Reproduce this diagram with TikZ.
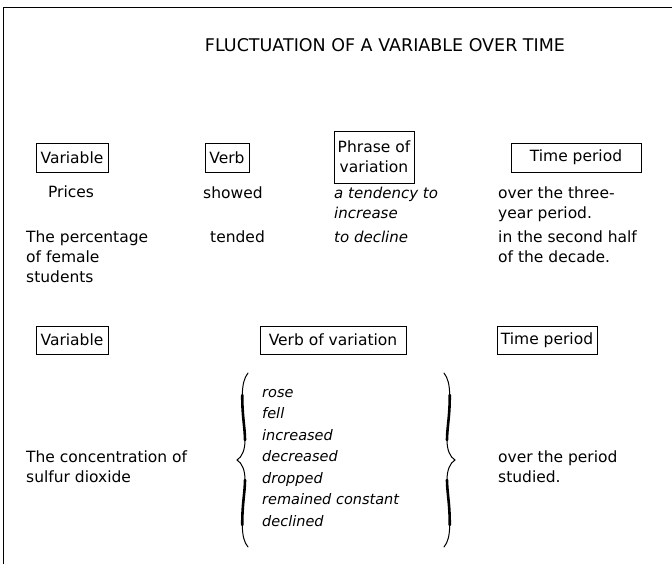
\documentclass[tikz,border=0pt]{standalone}
\usepackage{fontspec}
\setmainfont{DejaVu Sans}
\begin{document}
\begin{tikzpicture}[x=1pt,y=-1pt,
  every node/.style={font=\fontsize{15.5}{20}\selectfont, inner sep=0pt},
  titlestyle/.style={font=\fontsize{17.5}{20}\selectfont},
  hbox/.style={draw, line width=0.7pt, align=center},
  line1/.style={anchor=base},
  blk/.style={anchor=north west, align=left},
  itblk/.style={anchor=north west, align=left, font=\fontsize{15}{20}\selectfont\itshape},
  verbs/.style={anchor=north west, align=left, font=\fontsize{14.5}{21.5}\selectfont\itshape},
  thinbr/.style={line width=1pt, line cap=round},
  thickbr/.style={line width=2.6pt, line cap=round}]
\useasboundingbox (0,0) rectangle (672,564);
\coordinate (fbl) at (3,564);
\coordinate (ftl) at (3,7);
\coordinate (ftr) at (672,7);
\draw[line width=0.8pt] (fbl) -- (ftl) -- (ftr);
\node[titlestyle] (title) at (385,45) {FLUCTUATION OF A VARIABLE OVER TIME};
% upper header boxes
\node[hbox, minimum width=72pt, minimum height=29pt] (var1) at (72,157.5) {Variable};
\node[hbox, minimum width=44pt, minimum height=29pt] (verb1) at (227,157.5) {Verb};
\node[hbox, minimum width=80pt, minimum height=52pt] (phr1) at (374,157) {Phrase of\\variation};
\node[hbox, minimum width=130pt, minimum height=29pt] (time1) at (576,157.5) {Time period};
% row 1
\node[line1] (prices) at (71,198) {Prices};
\node[blk] (showed) at (203,187) {showed};
\node[itblk] (tend) at (334,187) {a tendency to\\increase};
\node[blk] (three) at (498,187) {over the three-\\year period.};
% row 2
\node[blk] (perc) at (26,231) {The percentage\\of female\\students};
\node[blk] (tended) at (210,231) {tended};
\node[itblk] (decl) at (334,231) {to decline};
\node[blk] (second) at (498,231) {in the second half\\of the decade.};
% lower header boxes
\node[hbox, minimum width=72pt, minimum height=28pt] (var2) at (72,340) {Variable};
\node[hbox, minimum width=146pt, minimum height=28pt] (verb2) at (333,340) {Verb of variation};
\node[hbox, minimum width=100pt, minimum height=28pt] (time2) at (547,340) {Time period};
% lower content
\node[blk] (conc) at (26,451) {The concentration of\\sulfur dioxide};
\node[verbs] (list) at (262,389) {rose\\fell\\increased\\decreased\\dropped\\remained constant\\declined};
\node[blk] (studied) at (498,451) {over the period\\studied.};
% braces
\foreach \sh/\sc in {6/1, 686/-1}{
\begin{scope}[shift={(\sh,0)}, xscale=\sc]
\draw[thinbr] (242,373) .. controls (238,378) and (236.5,385) .. (236.3,395);
\draw[thickbr] (236.3,395) .. controls (236,415) and (239,428) .. (239,440);
\draw[thinbr] (239,440) .. controls (239,450) and (236,457) .. (231,460)
  .. controls (236,463) and (239,470) .. (239,480);
\draw[thickbr] (239,480) .. controls (239,492) and (236,505) .. (236.3,525);
\draw[thinbr] (236.3,525) .. controls (236.5,536) and (238,542) .. (242,547);
\end{scope}}
\end{tikzpicture}
\end{document}
